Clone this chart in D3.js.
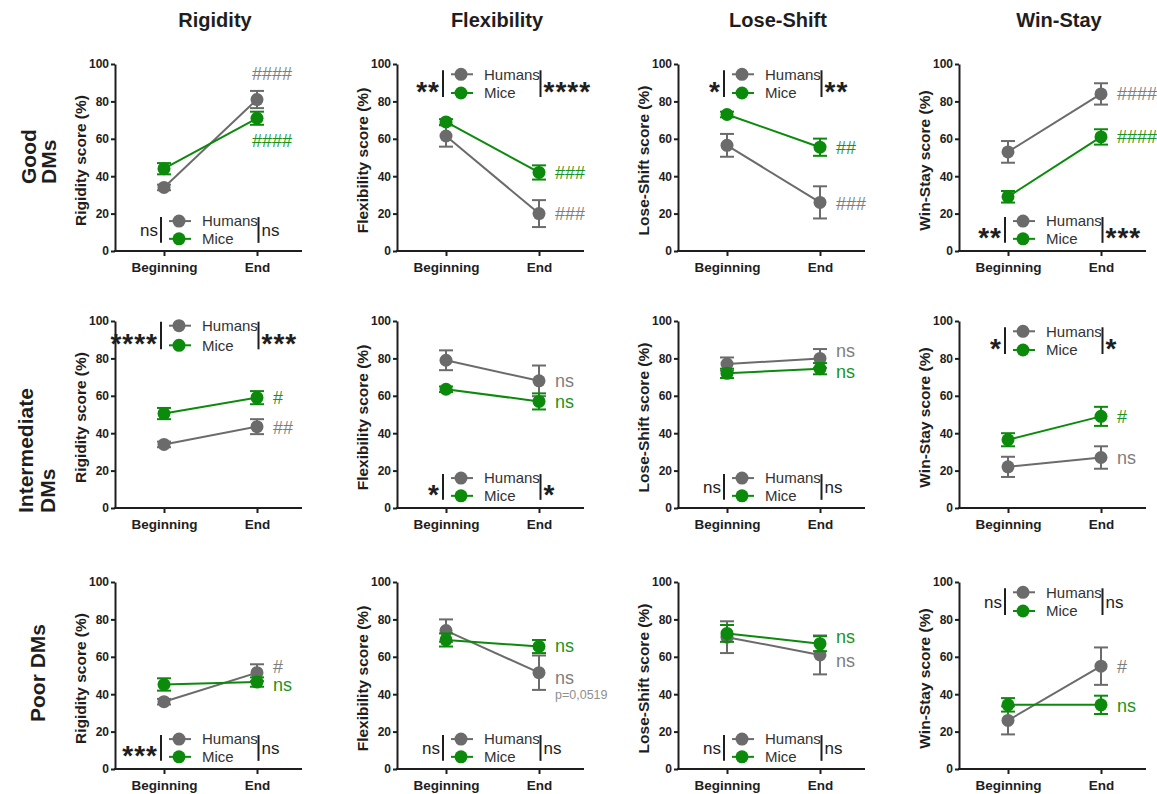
<!DOCTYPE html>
<html><head><meta charset="utf-8">
<script src="https://cdn.jsdelivr.net/npm/d3@7"></script>
<style>body{margin:0;background:#fff} svg{display:block}</style>
</head><body>
<script>
// ---------------- DATA ----------------
const measures = ["Rigidity", "Flexibility", "Lose-Shift", "Win-Stay"];
const yLabels = ["Rigidity score (%)", "Flexibility score (%)", "Lose-Shift score (%)", "Win-Stay score (%)"];
const groups = [["Good", "DMs"], ["Intermediate", "DMs"], ["Poor DMs"]];
const timepoints = ["Beginning", "End"];
const yTicks = [0, 20, 40, 60, 80, 100];
const seriesNames = ["Humans", "Mice"];

// means [row][col] = [Beginning, End]
const humansMean = [
  [[34, 81], [61.5, 20], [56.5, 26], [53, 84]],
  [[34, 43.5], [79, 68], [77, 80], [22, 27]],
  [[36, 51.5], [74, 51.5], [70.5, 61], [26, 55]]
];
const humansErr = [
  [[1.5, 4.6], [5.7, 7.2], [6.1, 8.6], [5.8, 5.7]],
  [[1.5, 4], [5.3, 8.2], [3.5, 5], [5.4, 6]],
  [[1.5, 4.5], [6, 9.2], [8.5, 10.4], [7.5, 10]]
];
const miceMean = [
  [[44, 71], [69, 42], [73, 55.5], [29, 61]],
  [[50.5, 59], [63.5, 57], [72, 74.5], [36.5, 49]],
  [[45.2, 46.5], [69, 65.5], [72.5, 67], [34.3, 34.3]]
];
const miceErr = [
  [[3, 3.5], [1.5, 3.8], [1.5, 4.6], [3.1, 4.1]],
  [[3, 3.5], [1.5, 4.3], [2.5, 3], [3.5, 5.1]],
  [[3.3, 2.5], [3.5, 3.5], [4.5, 4], [3.6, 4.9]]
];

// within-group labels near End point: [text, series (0 Humans, 1 Mice, 2 note), value]
const endLabels = [
  [[["####", 0, 95], ["####", 1, 59]], [["###", 1, 42], ["###", 0, 20]], [["##", 1, 55.5], ["###", 0, 25.5]], [["####", 0, 84], ["####", 1, 61]]],
  [[["#", 1, 59], ["##", 0, 43]], [["ns", 0, 68], ["ns", 1, 57]], [["ns", 0, 84], ["ns", 1, 73]], [["#", 1, 49], ["ns", 0, 27]]],
  [[["#", 0, 54.5], ["ns", 1, 45]], [["ns", 1, 66], ["ns", 0, 49], ["p=0,0519", 2, 40]], [["ns", 1, 70.5], ["ns", 0, 58]], [["#", 0, 54.5], ["ns", 1, 34]]]
];
// between-group comparisons (Beginning, End)
const betweenLeft = [["ns", "**", "*", "**"], ["****", "*", "ns", "*"], ["***", "ns", "ns", "ns"]];
const betweenRight = [["ns", "****", "**", "***"], ["***", "*", "ns", "*"], ["ns", "ns", "ns", "ns"]];
const legendPos = [["bottom", "top", "top", "bottom"], ["top", "bottom", "bottom", "top"], ["bottom", "bottom", "bottom", "top"]];

// ---------------- LAYOUT ----------------
const W = 1157, H = 794;
const FONT = "'Liberation Sans', Arial, Helvetica, sans-serif";
const GRAY = "#6b6b6b", GREEN = "#0b8a0b", INK = "#1e1e1e";
const LGRAY = "#7d7d7d", LGREEN = "#1b941b";
const colAxisX = [115, 397, 678, 959];
const rowTop = [64, 321, 582];
const plotH = 187, plotW = 187;

const svg = d3.select("body").append("svg").attr("width", W).attr("height", H)
  .style("font-family", FONT);

// column titles
measures.forEach((m, c) => {
  svg.append("text").attr("x", colAxisX[c] + 100).attr("y", 27)
    .attr("text-anchor", "middle").attr("font-weight", "bold").attr("font-size", 20)
    .attr("fill", INK).text(m);
});

// row titles
const rowLabelPos = [
  { start: 184, xs: [35.5, 55.5] },
  { start: 513, xs: [32.5, 54.5] },
  { start: 722, xs: [44.5] }
];
groups.forEach((g, r) => {
  g.forEach((line, i) => {
    svg.append("text")
      .attr("transform", `translate(${rowLabelPos[r].xs[i]},${rowLabelPos[r].start}) rotate(-90)`)
      .attr("font-weight", "bold").attr("font-size", 21).attr("fill", INK).text(line);
  });
});

const colors = [GRAY, GREEN];
const textColors = [LGRAY, LGREEN, "#8f8f8f"];

for (let r = 0; r < 3; r++) {
  for (let c = 0; c < 4; c++) {
    const x0 = colAxisX[c], yTop = rowTop[r], y0 = yTop + plotH;
    const g = svg.append("g");
    const y = d3.scaleLinear().domain([0, 100]).range([y0, yTop]);
    const x = d3.scalePoint().domain(timepoints).range([x0 + 49, x0 + 142]);

    // y axis
    const ya = g.append("g").attr("transform", `translate(${x0},0)`)
      .call(d3.axisLeft(y).tickValues(yTicks).tickSize(4).tickSizeOuter(0).tickPadding(2));
    ya.select(".domain").attr("stroke", INK).attr("stroke-width", 2);
    ya.selectAll(".tick line").attr("stroke", INK).attr("stroke-width", 2);
    ya.selectAll(".tick text").attr("font-family", FONT).attr("font-weight", "bold")
      .attr("font-size", 12).attr("fill", INK);

    // x axis
    const xa = g.append("g").attr("transform", `translate(0,${y0})`)
      .call(d3.axisBottom(x).tickSize(5).tickSizeOuter(0).tickPadding(6));
    xa.select(".domain").remove();
    xa.selectAll(".tick line").attr("stroke", INK).attr("stroke-width", 2);
    xa.selectAll(".tick text").attr("font-family", FONT).attr("font-weight", "bold")
      .attr("font-size", 13.5).attr("fill", INK);
    g.append("line").attr("x1", x0 - 1).attr("x2", x0 + plotW).attr("y1", y0).attr("y2", y0)
      .attr("stroke", INK).attr("stroke-width", 2);

    // y label
    g.append("text")
      .attr("transform", `translate(${x0 - 29},${(yTop + y0) / 2 + 3}) rotate(-90)`)
      .attr("text-anchor", "middle").attr("font-weight", "bold").attr("font-size", 15.5)
      .attr("fill", INK).text(yLabels[c]);

    // series
    const series = [
      { m: humansMean[r][c], e: humansErr[r][c] },
      { m: miceMean[r][c], e: miceErr[r][c] }
    ];
    series.forEach((s, si) => {
      const pts = timepoints.map((t, i) => ({ t, m: s.m[i], e: s.e[i] }));
      const col = colors[si];
      g.append("path").datum(pts)
        .attr("d", d3.line().x(d => x(d.t)).y(d => y(d.m)))
        .attr("fill", "none").attr("stroke", col).attr("stroke-width", 2);
      const eb = g.selectAll(null).data(pts).enter().append("g");
      eb.append("line").attr("x1", d => x(d.t)).attr("x2", d => x(d.t))
        .attr("y1", d => y(d.m - d.e)).attr("y2", d => y(d.m + d.e))
        .attr("stroke", col).attr("stroke-width", 2);
      [-1, 1].forEach(sg => {
        eb.append("line").attr("x1", d => x(d.t) - 7).attr("x2", d => x(d.t) + 7)
          .attr("y1", d => y(d.m + sg * d.e)).attr("y2", d => y(d.m + sg * d.e))
          .attr("stroke", col).attr("stroke-width", 2);
      });
      eb.append("circle").attr("cx", d => x(d.t)).attr("cy", d => y(d.m)).attr("r", 6.5)
        .attr("fill", col);
    });

    // end labels
    const dx = (r === 0 && c === 0) ? -5 : 16;
    endLabels[r][c].forEach(([t, s, v]) => {
      g.append("text").attr("x", x("End") + dx).attr("y", y(v)).attr("dy", "0.35em")
        .attr("font-size", s === 2 ? 12.5 : 18).attr("fill", textColors[s]).text(t);
    });

    // legend with comparison bars
    const top = legendPos[r][c] === "top";
    let hv = top ? 94.5 : 16, mv = top ? 84.5 : 6.5;
    if (r === 1 && c === 0) { hv = 97.5; mv = 87; }
    const hy = y(hv), my = y(mv), cy = (hy + my) / 2;
    const bx1 = x("Beginning") - 3, bx2 = x("End") + 1.5;
    [bx1, bx2].forEach(bx => {
      g.append("line").attr("x1", bx).attr("x2", bx).attr("y1", hy - 4).attr("y2", my + 4)
        .attr("stroke", INK).attr("stroke-width", 2);
    });
    seriesNames.forEach((n, si) => {
      const ly = si === 0 ? hy : my;
      g.append("line").attr("x1", bx1 + 8).attr("x2", bx1 + 30).attr("y1", ly).attr("y2", ly)
        .attr("stroke", colors[si]).attr("stroke-width", 2);
      g.append("circle").attr("cx", bx1 + 18).attr("cy", ly).attr("r", 6.5).attr("fill", colors[si]);
      g.append("text").attr("x", bx1 + 41).attr("y", ly).attr("dy", "0.35em")
        .attr("font-size", 15).attr("fill", "#333").text(n);
    });
    const sideText = (txt, xx, anchor) => {
      const isStar = txt.includes("*");
      g.append("text").attr("x", xx).attr("y", cy)
        .attr("dy", isStar ? "0.62em" : "0.35em")
        .attr("text-anchor", anchor)
        .attr("font-size", isStar ? 28 : 17)
        .attr("font-weight", isStar ? "bold" : "normal")
        .attr("letter-spacing", isStar ? 1 : 0)
        .attr("fill", INK).text(txt);
    };
    sideText(betweenLeft[r][c], bx1 - 3, "end");
    sideText(betweenRight[r][c], bx2 + 3, "start");
  }
}
</script>
</body></html>
